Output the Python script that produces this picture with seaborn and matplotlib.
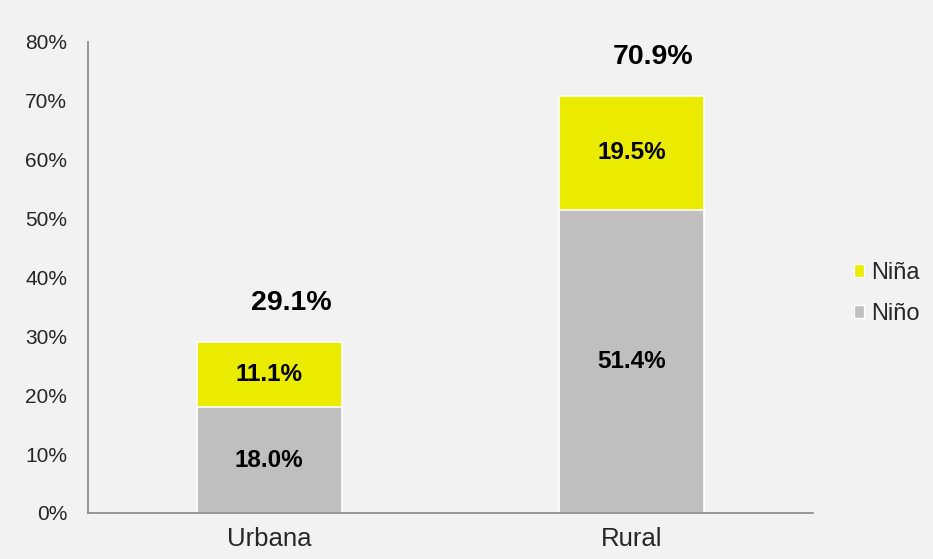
import pandas as pd
import seaborn as sns
import matplotlib.pyplot as plt
from matplotlib.patches import Patch

# Datos
zonas = ['Urbana', 'Rural']
nino = [18.0, 51.4]
nina = [11.1, 19.5]
total = [29.1, 70.9]

df = pd.DataFrame({'zona': zonas, 'nino': nino, 'nina': nina, 'total': total})

sns.set_style('white')
plt.rcParams['font.family'] = ['Liberation Sans', 'DejaVu Sans']

fondo = '#F2F2F2'
amarillo = '#EBEB00'
gris = '#BFBFBF'
eje = '#868686'

fig = plt.figure(figsize=(9.33, 5.59), dpi=100, facecolor=fondo)
ax = fig.add_axes([0.0943, 0.0823, 0.7771, 0.8426])
ax.set_facecolor(fondo)

# barra total (amarillo) y encima la parte de niño (gris)
sns.barplot(data=df, x='zona', y='total', color=amarillo, width=0.4,
            edgecolor='white', linewidth=1.2, saturation=1, ax=ax)
sns.barplot(data=df, x='zona', y='nino', color=gris, width=0.4,
            edgecolor='white', linewidth=1.2, saturation=1, ax=ax)

# etiquetas de los segmentos
for i, row in df.iterrows():
    ax.text(i, row['nino'] / 2, f"{row['nino']:.1f}%", ha='center', va='center',
            fontsize=17.5, fontweight='bold', color='black')
    ax.text(i, row['nino'] + row['nina'] / 2, f"{row['nina']:.1f}%", ha='center',
            va='center', fontsize=17.5, fontweight='bold', color='black')
    ax.text(i + 0.06, row['total'] + 6.5, f"{row['total']:.1f}%", ha='center',
            va='center', fontsize=20.5, fontweight='bold', color='black')

ax.set_ylim(0, 80)
ax.set_xlim(-0.5, 1.5)
ax.set_yticks(range(0, 81, 10))
ax.set_yticklabels([f'{v}%' for v in range(0, 81, 10)], fontsize=15)
ax.set_xlabel('')
ax.set_ylabel('')
ax.tick_params(axis='x', length=0, labelsize=18.5, pad=10)
ax.tick_params(axis='y', length=5, color=eje, width=1.2, pad=10)

# ticks menores del eje x entre categorías
ax.set_xticks([-0.5, 0.5, 1.5], minor=True)
ax.tick_params(axis='x', which='minor', length=6, color=eje, width=1.2)

for lado in ['top', 'right']:
    ax.spines[lado].set_visible(False)
for lado in ['left', 'bottom']:
    ax.spines[lado].set_color(eje)
    ax.spines[lado].set_linewidth(1.2)

handles = [Patch(facecolor=amarillo, edgecolor='white', label='Niña'),
           Patch(facecolor=gris, edgecolor='white', label='Niño')]
ax.legend(handles=handles, loc='center left', bbox_to_anchor=(1.056, 0.466),
          frameon=False, fontsize=17, handlelength=0.45, handleheight=0.45,
          handletextpad=0.3, labelspacing=0.8, borderpad=0, borderaxespad=0)

plt.savefig('out.png', dpi=100, facecolor=fondo)
